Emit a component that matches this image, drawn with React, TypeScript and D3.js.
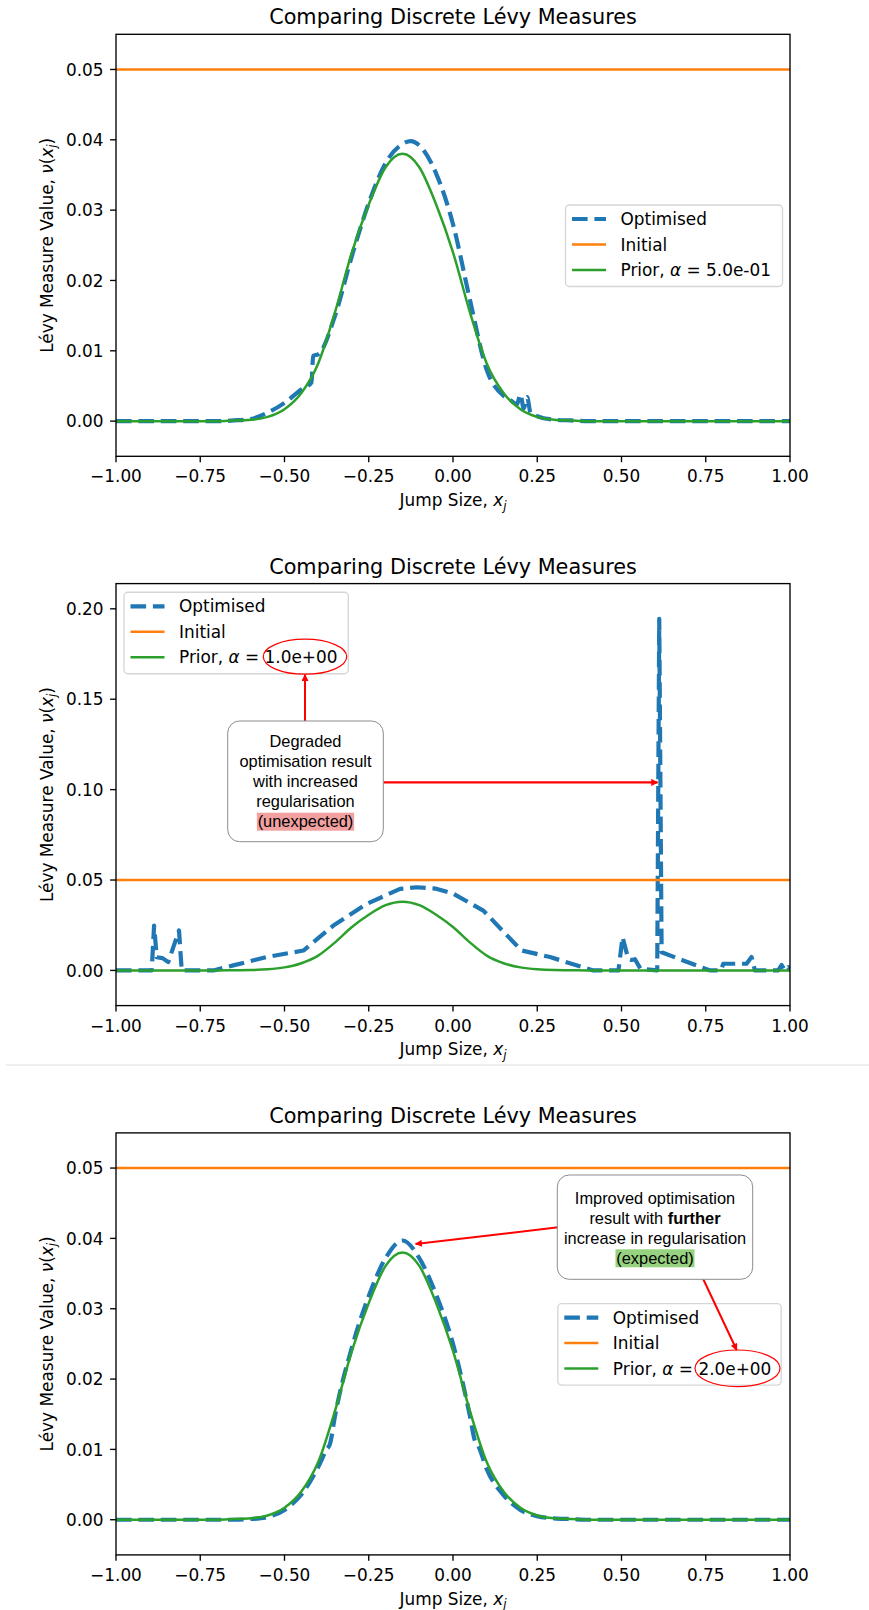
import * as d3 from 'd3';

// ---- values ----
const xTickValues = [-1, -0.75, -0.5, -0.25, 0, 0.25, 0.5, 0.75, 1];
const yTicksSmall = [0, 0.01, 0.02, 0.03, 0.04, 0.05];
const yTicksLarge = [0, 0.05, 0.1, 0.15, 0.2];
const seriesNames = ['Optimised', 'Initial', 'Prior'];
const alphaLabels = ['5.0e-01', '1.0e+00', '2.0e+00'];

const priorX = [
  -1.0, -0.95, -0.9, -0.85, -0.8, -0.75, -0.7, -0.65, -0.6, -0.55, -0.5, -0.45, -0.4, -0.35,
  -0.3, -0.25, -0.2, -0.15, -0.1, -0.05, 0.0, 0.05, 0.1, 0.15, 0.2, 0.25, 0.3, 0.35, 0.4,
  0.45, 0.5, 0.55, 0.6, 0.65, 0.7, 0.75, 0.8, 0.85, 0.9, 0.95, 1.0,
];
const priorY = [
  0, 0, 0, 0, 0, 0, 0, 0.0001, 0.0002, 0.0006, 0.0017, 0.004, 0.0082, 0.0155,
  0.024, 0.0308, 0.0361, 0.038, 0.0361, 0.0308, 0.024, 0.0155, 0.0082, 0.004, 0.0017, 0.0006, 0.0002, 0.0001, 0,
  0, 0, 0, 0, 0, 0, 0, 0, 0, 0, 0, 0,
];

const initialX = [-1, 1];
const initialY = [0.05, 0.05];

// alpha = 0.5
const opt1X = [
  -1, -0.7, -0.65, -0.6, -0.55, -0.5, -0.45, -0.42, -0.415, -0.4,
  -0.35, -0.3, -0.25, -0.2, -0.15, -0.125, -0.1, -0.05, 0, 0.05,
  0.1, 0.15, 0.17, 0.19, 0.2, 0.21, 0.22, 0.23, 0.25, 0.3,
  0.35, 0.4, 1,
];
const opt1Y = [
  0, 0, 0.0001, 0.0003, 0.0012, 0.0026, 0.0045, 0.0055, 0.0093, 0.0095,
  0.015, 0.0235, 0.031, 0.0367, 0.0394, 0.0398, 0.0392, 0.0352, 0.028, 0.0173,
  0.0073, 0.0036, 0.003, 0.0024, 0.0038, 0.0018, 0.0034, 0.0012, 0.0007, 0.0002,
  0.0001, 0, 0,
];

// alpha = 1.0
const opt2X = [
  -1, -0.894, -0.887, -0.879, -0.862, -0.845, -0.813, -0.805, -0.711, -0.652,
  -0.553, -0.444, -0.355, -0.256, -0.157, -0.108, -0.05, 0, 0.09, 0.189,
  0.204, 0.288, 0.416, 0.491, 0.503, 0.52, 0.53, 0.54, 0.556, 0.604,
  0.606, 0.612, 0.619, 0.683, 0.763, 0.795, 0.802, 0.871, 0.886, 0.896,
  0.965, 0.975, 0.985, 0.995, 1,
];
const opt2Y = [
  0, 0, 0.0248, 0.0073, 0.0068, 0.0046, 0.0221, 0, 0, 0.0028,
  0.0074, 0.011, 0.0248, 0.0368, 0.0451, 0.046, 0.0452, 0.0425, 0.0331, 0.0138,
  0.011, 0.0074, 0, 0, 0.0184, 0.0064, 0.0058, 0.0062, 0.001, 0,
  0, 0.1945, 0.0101, 0.0055, 0, 0, 0.0037, 0.0037, 0.0074, 0,
  0, 0.003, 0, 0.0018, 0,
];

// alpha = 2.0
const opt3X = [
  -1, -0.65, -0.6, -0.55, -0.5, -0.45, -0.4, -0.375, -0.365, -0.35,
  -0.3, -0.25, -0.2, -0.15, -0.1, -0.05, 0, 0.05, 0.065, 0.075,
  0.1, 0.15, 0.2, 0.25, 0.3, 0.35, 0.4, 1,
];
const opt3Y = [
  0, 0, 0.0001, 0.0004, 0.0014, 0.0036, 0.0075, 0.01, 0.0108, 0.0148,
  0.0245, 0.0318, 0.0372, 0.0397, 0.0372, 0.032, 0.025, 0.0148, 0.0112, 0.0105,
  0.0072, 0.0035, 0.0014, 0.0005, 0.0002, 0.0001, 0, 0,
];

// ---- layout ----
const W = 869;
const H = 1610;
const AX = { left: 116, right: 790, top: 34.3, bottom: 456.3 };
const FONT = '"DejaVu Sans", sans-serif';
const ANNOT_FONT = '"Liberation Sans", Arial, sans-serif';
const BLUE = '#1f77b4';
const ORANGE = '#ff7f0e';
const GREEN = '#2ca02c';
const fmt = d3.format('.2f');

type Scale = d3.ScaleLinear<number, number>;

function Legend({ left, top, width, alpha }: { left: number; top: number; width: number; alpha: string }) {
  const rows = [14, 39.5, 65];
  const hx1 = left + 6.5;
  const hx2 = left + 40.5;
  const tx = left + 55;
  return (
    <g>
      <rect x={left} y={top} width={width} height={81.5} rx={4} fill="white" fillOpacity={0.8}
        stroke="#cccccc" strokeOpacity={0.8} strokeWidth={1.35} />
      <line x1={hx1} x2={hx2} y1={top + rows[0]} y2={top + rows[0]} stroke={BLUE} strokeWidth={4.2}
        strokeDasharray="15.6,6.8" />
      <line x1={hx1} x2={hx2} y1={top + rows[1]} y2={top + rows[1]} stroke={ORANGE} strokeWidth={2.5} />
      <line x1={hx1} x2={hx2} y1={top + rows[2]} y2={top + rows[2]} stroke={GREEN} strokeWidth={2.5} />
      <text x={tx} y={top + rows[0] + 6} fontSize={16.9}>{seriesNames[0]}</text>
      <text x={tx} y={top + rows[1] + 6} fontSize={16.9}>{seriesNames[1]}</text>
      <text x={tx} y={top + rows[2] + 6} fontSize={16.9}>
        {seriesNames[2]}, <tspan fontStyle="italic">α</tspan> = {alpha}
      </text>
    </g>
  );
}

function AnnotBox({ x, y, w, h, cx, lines, hl }: {
  x: number; y: number; w: number; h: number; cx: number;
  lines: { cy: number; content: any }[]; hl: { cy: number; w: number; color: string };
}) {
  return (
    <g fontFamily={ANNOT_FONT} fontSize={16.4}>
      <rect x={x} y={y} width={w} height={h} rx={12} fill="white" stroke="#8c8c8c" strokeWidth={1} />
      <rect x={cx - hl.w / 2} y={hl.cy - 9} width={hl.w} height={18} fill={hl.color} />
      {lines.map((l, i) => (
        <text key={i} x={cx} y={l.cy + 5.8} textAnchor="middle">{l.content}</text>
      ))}
    </g>
  );
}

function Annot2({ x, y }: { x: Scale; y: Scale }) {
  return (
    <g>
      <ellipse cx={305} cy={107.4} rx={41.7} ry={17.5} fill="none" stroke="red" strokeWidth={1.2} />
      <line x1={305} y1={171.7} x2={305} y2={125.5} stroke="red" strokeWidth={2} markerEnd="url(#arrowRed)" />
      <line x1={383.3} y1={y(0.104)} x2={x(0.607)} y2={y(0.104)} stroke="red" strokeWidth={2.3}
        markerEnd="url(#arrowRed)" />
      <AnnotBox x={227.7} y={171.7} w={155.6} h={120.7} cx={305.5}
        hl={{ cy: 272.4, w: 97.3, color: '#f2a0a0' }}
        lines={[
          { cy: 192.4, content: 'Degraded' },
          { cy: 212.4, content: 'optimisation result' },
          { cy: 232.4, content: 'with increased' },
          { cy: 252.4, content: 'regularisation' },
          { cy: 272.4, content: '(unexpected)' },
        ]} />
    </g>
  );
}

function Annot3({ x, y }: { x: Scale; y: Scale }) {
  return (
    <g>
      <ellipse cx={737.5} cy={269.7} rx={42.5} ry={18.3} fill="none" stroke="red" strokeWidth={1.2} />
      <line x1={558.3} y1={128.7} x2={x(-0.111)} y2={y(0.0392)} stroke="red" strokeWidth={2}
        markerEnd="url(#arrowRed)" />
      <line x1={703.3} y1={180.7} x2={736.7} y2={251.4} stroke="red" strokeWidth={2}
        markerEnd="url(#arrowRed)" />
      <AnnotBox x={557.3} y={76.4} w={195.4} h={104.3} cx={655}
        hl={{ cy: 159.7, w: 79, color: '#96d27f' }}
        lines={[
          { cy: 99.7, content: 'Improved optimisation' },
          { cy: 119.7, content: <>result with <tspan fontWeight="bold">further</tspan></> },
          { cy: 139.7, content: 'increase in regularisation' },
          { cy: 159.7, content: '(expected)' },
        ]} />
    </g>
  );
}

const panels = [
  { top: 0, optX: opt1X, optY: opt1Y, curve: d3.curveMonotoneX, alpha: alphaLabels[0], yTicks: yTicksSmall,
    legend: { left: 565.5, top: 205, width: 217 }, Annot: null as any },
  { top: 549.3, optX: opt2X, optY: opt2Y, curve: d3.curveLinear, alpha: alphaLabels[1], yTicks: yTicksLarge,
    legend: { left: 124, top: 43, width: 224.3 }, Annot: Annot2 },
  { top: 1098.6, optX: opt3X, optY: opt3Y, curve: d3.curveMonotoneX, alpha: alphaLabels[2], yTicks: yTicksSmall,
    legend: { left: 557.8, top: 205, width: 223.4 }, Annot: Annot3 },
];

function Panel({ cfg, index }: { cfg: typeof panels[number]; index: number }) {
  const x = d3.scaleLinear().domain([-1, 1]).range([AX.left, AX.right]);
  const M = d3.max([...cfg.optY, ...initialY, ...priorY]) as number;
  const y = d3.scaleLinear().domain([-0.1 * M, 1.1 * M]).range([AX.bottom, AX.top]);
  const path = (xs: number[], ys: number[], curve: d3.CurveFactory) =>
    d3.line<number>().x((_, i) => x(xs[i])).y((d) => y(d)).curve(curve)(ys) || '';
  const clipId = `plotclip${index}`;
  const Annot = cfg.Annot;
  const cx = (AX.left + AX.right) / 2;
  const cy = (AX.top + AX.bottom) / 2;

  return (
    <g transform={`translate(0,${cfg.top})`}>
      <defs>
        <clipPath id={clipId}>
          <rect x={AX.left} y={AX.top} width={AX.right - AX.left} height={AX.bottom - AX.top} />
        </clipPath>
      </defs>
      <text x={cx} y={24.3} textAnchor="middle" fontSize={20.8}>Comparing Discrete Lévy Measures</text>

      <g clipPath={`url(#${clipId})`} fill="none">
        <path d={path(cfg.optX, cfg.optY, cfg.curve)} stroke={BLUE} strokeWidth={4.2}
          strokeDasharray="15.6,6.8" strokeLinejoin="round" />
        <path d={path(initialX, initialY, d3.curveLinear)} stroke={ORANGE} strokeWidth={2.5} />
        <path d={path(priorX, priorY, d3.curveMonotoneX)} stroke={GREEN} strokeWidth={2.5}
          strokeLinejoin="round" />
      </g>

      <rect x={AX.left} y={AX.top} width={AX.right - AX.left} height={AX.bottom - AX.top}
        fill="none" stroke="black" strokeWidth={1.35} />

      {xTickValues.map((t) => (
        <g key={`x${t}`}>
          <line x1={x(t)} x2={x(t)} y1={AX.bottom} y2={AX.bottom + 5.9} stroke="black" strokeWidth={1.35} />
          <text x={x(t)} y={482.4} textAnchor="middle" fontSize={16.9}>{fmt(t)}</text>
        </g>
      ))}
      {cfg.yTicks.map((t) => (
        <g key={`y${t}`}>
          <line x1={AX.left - 5.9} x2={AX.left} y1={y(t)} y2={y(t)} stroke="black" strokeWidth={1.35} />
          <text x={103.5} y={y(t) + 6.2} textAnchor="end" fontSize={16.9}>{fmt(t)}</text>
        </g>
      ))}

      <text x={cx} y={506} textAnchor="middle" fontSize={16.9}>
        Jump Size, <tspan fontStyle="italic">x</tspan>
        <tspan fontStyle="italic" fontSize={11.8} dy={3.5}>j</tspan>
      </text>
      <text transform={`translate(52.5,${cy}) rotate(-90)`} textAnchor="middle" fontSize={16.9}>
        Lévy Measure Value, <tspan fontStyle="italic">ν</tspan>(<tspan fontStyle="italic">x</tspan>
        <tspan fontStyle="italic" fontSize={11.8} dy={3.5}>j</tspan>
        <tspan dy={-3.5}>)</tspan>
      </text>

      <Legend left={cfg.legend.left} top={cfg.legend.top} width={cfg.legend.width} alpha={cfg.alpha} />
      {Annot && <Annot x={x} y={y} />}
    </g>
  );
}

export default function App() {
  return (
    <svg width={W} height={H} viewBox={`0 0 ${W} ${H}`} fontFamily={FONT}
      style={{ position: 'absolute', left: 0, top: 0, background: 'white' }}>
      <defs>
        <marker id="arrowRed" viewBox="0 0 10 10" refX={9} refY={5} markerWidth={8} markerHeight={7}
          markerUnits="userSpaceOnUse" orient="auto">
          <path d="M0,0 L10,5 L0,10 z" fill="red" />
        </marker>
      </defs>
      <rect x={0} y={0} width={W} height={H} fill="white" />
      {panels.map((p, i) => <Panel key={i} cfg={p} index={i} />)}
      <line x1={6} x2={W} y1={1065} y2={1065} stroke="#dddddd" strokeWidth={1} />
    </svg>
  );
}
